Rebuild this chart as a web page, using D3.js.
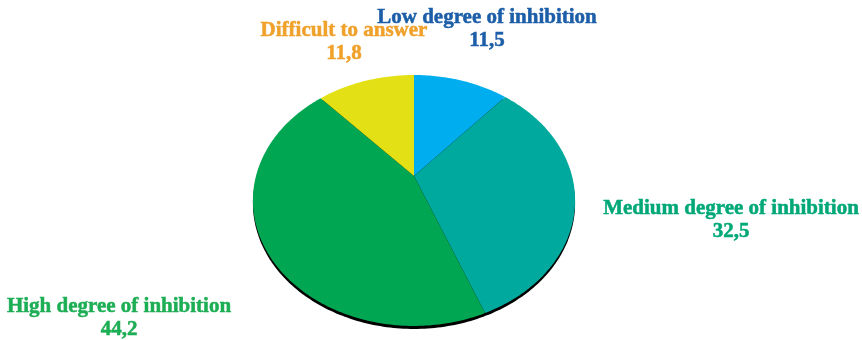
<!DOCTYPE html>
<html>
<head>
<meta charset="utf-8">
<script src="https://cdn.jsdelivr.net/npm/d3@7/dist/d3.min.js"></script>
<style>
html,body{margin:0;padding:0;background:#fff;}
svg{display:block;}
text{font-family:"Liberation Serif",serif;font-weight:bold;font-size:21px;text-anchor:middle;stroke-width:0.5px;}
</style>
</head>
<body>
<svg id="chart" width="862" height="340"></svg>
<script>
// Shares of respondents by degree of inhibition, clockwise from twelve o'clock
const categories = ["Low degree of inhibition","Medium degree of inhibition","High degree of inhibition","Difficult to answer"];
const shares = [11.5,32.5,44.2,11.8];
const valueLabels = ["11,5","32,5","44,2","11,8"];
const sliceColors = ["#00aeef","#00a99d","#00a651","#e3e119"];
const labelColors = ["#1c5ea8","#00a878","#1fae55","#f0a12c"];
const labelAnchors = [[487,23],[731,214],[119,312],[344,36]];

const svg = d3.select("#chart");
const hub = [414,176], tilt = 0.195, across = 158, depth = 120.7;

// Tilted disc: a point at a clock angle on the unit circle, seen in perspective
function project(angle, r = 1){
  const X = r*Math.sin(angle), Y = r*Math.cos(angle), w = 1 + tilt*Y;
  return [hub[0] + across*X/w, hub[1] - depth*Y/w];
}

const arcs = d3.pie().sort(null).value(d=>d)(shares);
const line = d3.line();

const defs = svg.append("defs");
defs.append("filter").attr("id","soft")
  .append("feGaussianBlur").attr("stdDeviation",0.7);

// Dark rim showing under the near edge of the disc
const outline = d3.range(361).map(k=>project(k*Math.PI/180));
svg.append("path")
  .attr("fill","#000")
  .attr("filter","url(#soft)")
  .attr("transform","translate(0,3)")
  .attr("d",line(outline)+"Z");

svg.append("g").attr("filter","url(#soft)")
  .selectAll("path").data(arcs).join("path")
  .attr("fill",(d,i)=>sliceColors[i])
  .attr("d",d=>{
    const steps = Math.ceil((d.endAngle-d.startAngle)*60);
    const rim = d3.range(steps+1).map(k=>project(d.startAngle+(d.endAngle-d.startAngle)*k/steps));
    return line([hub,...rim])+"Z";
  });

const labels = svg.append("g").attr("filter","url(#soft)")
  .selectAll("text").data(categories).join("text")
  .attr("fill",(d,i)=>labelColors[i])
  .attr("stroke",(d,i)=>labelColors[i])
  .attr("x",(d,i)=>labelAnchors[i][0])
  .attr("y",(d,i)=>labelAnchors[i][1]);
labels.append("tspan").text(d=>d);
labels.append("tspan").attr("x",(d,i)=>labelAnchors[i][0]).attr("dy",23).text((d,i)=>valueLabels[i]);
</script>
</body>
</html>
